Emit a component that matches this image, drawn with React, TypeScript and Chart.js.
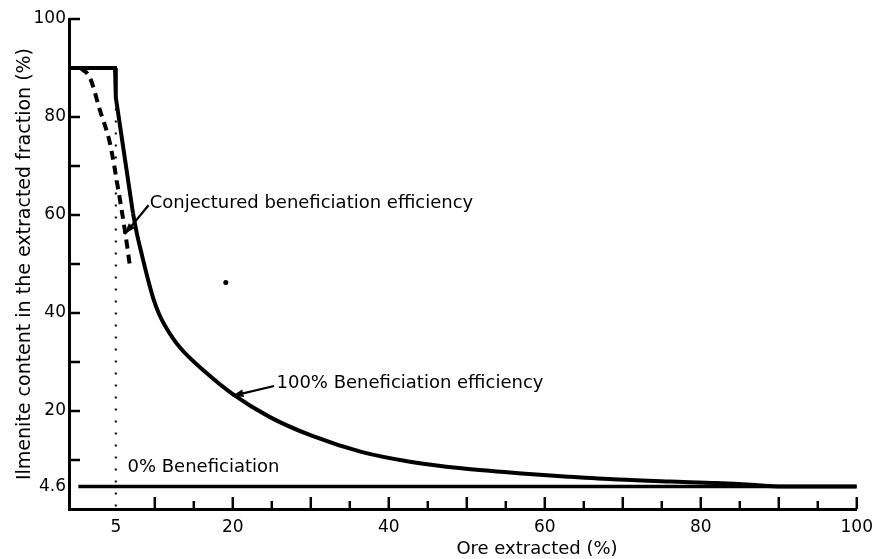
import React, { useEffect, useRef } from 'react';
import { Chart, registerables } from 'chart.js';

Chart.register(...registerables);

// ---- axis ticks ----
const X_LABEL_VALUES = [5, 20, 40, 60, 80, 100];
const X_TICK_MARKS = [10, 15, 20, 25, 30, 35, 40, 45, 50, 55, 60, 65, 70, 75, 80, 85, 90, 95, 100];
const Y_LABEL_VALUES = [4.6, 20, 40, 60, 80, 100];
const Y_TICK_MARKS = [10, 20, 30, 40, 50, 60, 70, 80, 90, 100];

// ---- series ----
// 100% efficiency: flat top and steep straight drop
const PLATEAU_X = [-1, 4.9, 5.0, 7.2];
const PLATEAU_Y = [90, 90, 84, 60.4];

// 100% efficiency: curved tail
const FULL_X = [7.2, 7.69, 8.4, 9.1, 9.8, 10.6, 11.5, 13.2, 16.6, 19.95, 24.7, 30.2, 36.6, 42.9, 49.3, 56.6, 63.0, 69.4, 76.0, 82.1, 86.4, 90.4, 100];
const FULL_Y = [60.4, 56.3, 51.5, 47.0, 43.0, 39.6, 36.9, 33.0, 27.8, 23.5, 18.8, 14.9, 11.6, 9.6, 8.3, 7.3, 6.6, 6.0, 5.6, 5.3, 4.95, 4.6, 4.6];

const CONJ_X = [0.5, 1.69, 2.96, 4.24, 5.26, 6.16, 6.79];
const CONJ_Y = [90, 88.0, 81.4, 74.7, 65.7, 56.9, 49.8];

const ZERO_X = [0.2, 100];
const ZERO_Y = [4.6, 4.6];

const GUIDE_X = [5, 5];
const GUIDE_Y = [0.5, 84];

const SPECK_X = [19.1];
const SPECK_Y = [46.2];

// ---- texts ----
const X_TITLE = 'Ore extracted (%)';
const Y_TITLE = 'Ilmenite content in the extracted fraction (%)';
const LABEL_CONJ = 'Conjectured beneficiation efficiency';
const LABEL_FULL = '100% Beneficiation efficiency';
const LABEL_ZERO = '0% Beneficiation';

const FONT = '"DejaVu Sans", "Liberation Sans", sans-serif';

const toPoints = (xs: number[], ys: number[]) => xs.map((x, i) => ({ x, y: ys[i] }));

function drawArrow(ctx: CanvasRenderingContext2D, x1: number, y1: number, x2: number, y2: number) {
  ctx.beginPath();
  ctx.moveTo(x1, y1);
  ctx.lineTo(x2, y2);
  ctx.lineWidth = 2.2;
  ctx.stroke();
  const ang = Math.atan2(y2 - y1, x2 - x1);
  const len = 11;
  const hw = 3.8;
  const bx = x2 - Math.cos(ang) * len;
  const by = y2 - Math.sin(ang) * len;
  ctx.beginPath();
  ctx.moveTo(x2, y2);
  ctx.lineTo(bx + Math.sin(ang) * hw, by - Math.cos(ang) * hw);
  ctx.lineTo(bx - Math.sin(ang) * hw, by + Math.cos(ang) * hw);
  ctx.closePath();
  ctx.fill();
}

const decorations = {
  id: 'decorations',
  afterDatasetsDraw(chart: any) {
    const { ctx, chartArea } = chart;
    const xs = chart.scales.x;
    const ys = chart.scales.y;
    const px = (v: number) => xs.getPixelForValue(v);
    const py = (v: number) => ys.getPixelForValue(v);
    ctx.save();
    ctx.strokeStyle = '#000';
    ctx.fillStyle = '#000';
    ctx.lineWidth = 2.5;
    // inward tick marks
    X_TICK_MARKS.forEach((v) => {
      const p = px(v);
      const len = v % 10 === 0 ? 12 : 8;
      ctx.beginPath();
      ctx.moveTo(p, chartArea.bottom);
      ctx.lineTo(p, chartArea.bottom - len);
      ctx.stroke();
    });
    Y_TICK_MARKS.forEach((v) => {
      const p = py(v);
      ctx.beginPath();
      ctx.moveTo(chartArea.left, p);
      ctx.lineTo(chartArea.left + 11, p);
      ctx.stroke();
    });

    // annotations
    ctx.font = `18px ${FONT}`;
    ctx.fillStyle = '#000';
    ctx.textBaseline = 'middle';
    ctx.textAlign = 'left';
    ctx.fillText(LABEL_CONJ, px(9.35), py(62.4));
    ctx.fillText(LABEL_FULL, px(25.6), py(25.7));
    ctx.fillText(LABEL_ZERO, px(6.5), py(8.6));
    drawArrow(ctx, px(9.2), py(62), px(6.15), py(56.1));
    drawArrow(ctx, px(25.3), py(25.1), px(19.95), py(23.1));

    // x axis title
    ctx.textAlign = 'center';
    ctx.fillText(X_TITLE, px(59), chartArea.bottom + 40);
    ctx.restore();
  },
};

export default function App() {
  const ref = useRef<HTMLCanvasElement | null>(null);

  useEffect(() => {
    if (!ref.current) return;
    const chart = new Chart(ref.current, {
      type: 'line',
      data: {
        datasets: [
          {
            label: '100% Beneficiation efficiency (top)',
            data: toPoints(PLATEAU_X, PLATEAU_Y),
            borderColor: '#000',
            borderWidth: 4,
            borderJoinStyle: 'miter',
            pointRadius: 0,
          },
          {
            label: '100% Beneficiation efficiency',
            data: toPoints(FULL_X, FULL_Y),
            borderColor: '#000',
            borderWidth: 4,
            pointRadius: 0,
            cubicInterpolationMode: 'monotone',
          },
          {
            label: 'Conjectured beneficiation efficiency',
            data: toPoints(CONJ_X, CONJ_Y),
            borderColor: '#000',
            borderWidth: 4,
            borderDash: [9, 6],
            pointRadius: 0,
            cubicInterpolationMode: 'monotone',
          },
          {
            label: '0% Beneficiation',
            data: toPoints(ZERO_X, ZERO_Y),
            borderColor: '#000',
            borderWidth: 3.5,
            pointRadius: 0,
          },
          {
            label: 'guide',
            data: toPoints(GUIDE_X, GUIDE_Y),
            borderColor: '#000',
            borderWidth: 2,
            borderDash: [2, 10],
            pointRadius: 0,
          },
          {
            label: 'speck',
            data: toPoints(SPECK_X, SPECK_Y),
            showLine: false,
            pointRadius: 2.5,
            pointBackgroundColor: '#000',
            pointBorderWidth: 0,
          },
        ],
      },
      options: {
        animation: false,
        responsive: false,
        events: [],
        layout: { padding: { left: 0, top: 19, right: 21, bottom: 0 } },
        plugins: {
          legend: { display: false },
          tooltip: { enabled: false },
          title: { display: false },
        },
        scales: {
          x: {
            type: 'linear',
            min: -1,
            max: 100,
            grid: { display: false, drawTicks: false },
            border: { display: true, color: '#000', width: 3 },
            afterBuildTicks: (scale: any) => {
              scale.ticks = X_LABEL_VALUES.map((value) => ({ value }));
            },
            afterFit: (scale: any) => {
              scale.height = 50;
            },
            ticks: {
              autoSkip: false,
              maxRotation: 0,
              padding: 8,
              color: '#000',
              font: { family: FONT, size: 17 },
              callback: (v: any) => String(v),
            },
          },
          y: {
            type: 'linear',
            min: 0,
            max: 100,
            grid: { display: false, drawTicks: false },
            border: { display: true, color: '#000', width: 3 },
            afterBuildTicks: (scale: any) => {
              scale.ticks = Y_LABEL_VALUES.map((value) => ({ value }));
            },
            afterFit: (scale: any) => {
              scale.width = 69;
            },
            ticks: {
              autoSkip: false,
              padding: 3,
              color: '#000',
              font: { family: FONT, size: 17 },
              callback: (v: any) => String(v),
            },
            title: {
              display: true,
              text: Y_TITLE,
              color: '#000',
              font: { family: FONT, size: 19 },
              padding: { top: 14, bottom: 0 },
            },
          },
        },
      },
      plugins: [decorations],
    } as any);
    return () => chart.destroy();
  }, []);

  return (
    <div style={{ position: 'fixed', left: 0, top: 0, width: 881, height: 559, background: '#fff' }}>
      <canvas ref={ref} width={881} height={559} style={{ display: 'block' }} />
    </div>
  );
}
